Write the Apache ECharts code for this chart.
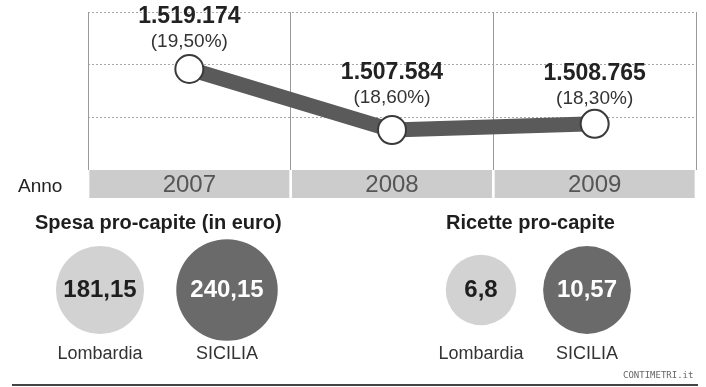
<!DOCTYPE html>
<html>
<head>
<meta charset="utf-8">
<script src="https://cdn.jsdelivr.net/npm/echarts@6/dist/echarts.min.js"></script>
<style>
html,body{margin:0;padding:0;background:#fff;}
#c{width:706px;height:387px;}
</style>
</head>
<body>
<div id="c"></div>
<script>
// ---- data ----
const years = ['2007', '2008', '2009'];
const ricetteTot = [1519174, 1507584, 1508765];
const quota = [19.50, 18.60, 18.30];
const regions = ['Lombardia', 'SICILIA'];
const spesaProCapite = [181.15, 240.15];
const ricetteProCapite = [6.8, 10.57];
const yTicks = [1500000, 1510000, 1520000, 1530000];

// ---- helpers ----
function fmtInt(v) { return String(v).replace(/\B(?=(\d{3})+(?!\d))/g, '.'); }
function fmtPct(v) { return v.toFixed(2).replace('.', ','); }
function fmtDec(v) { return String(v).replace('.', ','); }

const FONT = '"Liberation Sans", Arial, Helvetica, sans-serif';
const circleColors = ['#d2d2d2', '#6a6a6a'];
const circleText = ['#1e1e1e', '#ffffff'];
const labelGap = [0, 5, -2];

const chart = echarts.init(document.getElementById('c'), null, {renderer: 'canvas'});

function circleSeries(vals, k, axisIdx) {
  return {
    type: 'scatter',
    xAxisIndex: axisIdx, yAxisIndex: axisIdx,
    data: vals.map((v, i) => ({
      value: [i, 0, v],
      itemStyle: {color: circleColors[i], opacity: 1},
      label: {color: circleText[i]}
    })),
    symbol: 'circle',
    symbolSize: (val) => k * Math.sqrt(val[2]),
    itemStyle: {opacity: 1},
    label: {
      show: true, position: 'inside',
      formatter: (p) => fmtDec(p.value[2]),
      fontFamily: FONT, fontSize: 24, fontWeight: 'bold'
    },
    silent: true
  };
}

function regionAxis(idx) {
  return {
    gridIndex: idx, type: 'category', data: regions,
    axisLine: {show: false}, axisTick: {show: false}, splitLine: {show: false},
    axisLabel: {interval: 0, hideOverlap: false, margin: 35, fontFamily: FONT, fontSize: 18, color: '#333'}
  };
}

const option = {
  backgroundColor: '#ffffff',
  animation: false,
  textStyle: {fontFamily: FONT},
  title: [
    {text: 'Spesa pro-capite (in euro)', left: 30, top: 206,
     textStyle: {fontFamily: FONT, fontSize: 20, fontWeight: 'bold', color: '#1e1e1e', lineHeight: 24}},
    {text: 'Ricette pro-capite', left: 441, top: 206,
     textStyle: {fontFamily: FONT, fontSize: 20, fontWeight: 'bold', color: '#1e1e1e', lineHeight: 24}},
    {text: 'Anno', left: 13, top: 171,
     textStyle: {fontFamily: FONT, fontSize: 19, fontWeight: 'normal', color: '#222', lineHeight: 22}}
  ],
  grid: [
    {left: 88, right: 10, top: 12, height: 158},
    {left: 36.5, width: 254, top: 270, height: 40},
    {left: 428, width: 212, top: 270, height: 40}
  ],
  xAxis: [
    {
      gridIndex: 0, type: 'category', data: years, boundaryGap: true,
      axisLine: {show: false}, axisTick: {show: false},
      splitLine: {show: true, lineStyle: {color: '#9a9a9a', width: 1}},
      axisLabel: {
        interval: 0, margin: 0, fontFamily: FONT, fontSize: 24, color: '#555',
        backgroundColor: '#cccccc', width: 200, height: 28, lineHeight: 30,
        align: 'center', verticalAlign: 'top'
      }
    },
    regionAxis(1),
    regionAxis(2)
  ],
  yAxis: [
    {
      gridIndex: 0, type: 'value',
      min: yTicks[0], max: yTicks[yTicks.length - 1], interval: yTicks[1] - yTicks[0],
      axisLine: {show: false}, axisTick: {show: false}, axisLabel: {show: false},
      splitLine: {show: true, showMinLine: false,
        lineStyle: {color: '#a8a8a8', width: 1, type: [2, 2]}}
    },
    {gridIndex: 1, type: 'value', min: -1, max: 1, show: false},
    {gridIndex: 2, type: 'value', min: -1, max: 1, show: false}
  ],
  series: [
    {
      type: 'line',
      xAxisIndex: 0, yAxisIndex: 0,
      data: ricetteTot.map((v, i) => ({value: v, label: {distance: labelGap[i]}})),
      symbol: 'circle', symbolSize: 28,
      itemStyle: {color: '#ffffff', borderColor: '#3a3a3a', borderWidth: 2},
      lineStyle: {color: '#5a5a5a', width: 15},
      label: {
        show: true, position: 'top',
        formatter: (p) => '{v|' + fmtInt(ricetteTot[p.dataIndex]) + '}\n{p|(' + fmtPct(quota[p.dataIndex]) + '%)}',
        rich: {
          v: {fontFamily: FONT, fontSize: 23, fontWeight: 'bold', color: '#222', lineHeight: 26, align: 'center'},
          p: {fontFamily: FONT, fontSize: 19, color: '#333', lineHeight: 24, align: 'center'}
        }
      },
      silent: true
    },
    circleSeries(spesaProCapite, 6.55, 1),
    circleSeries(ricetteProCapite, 27, 2)
  ],
  graphic: [
    {type: 'line', shape: {x1: 12, y1: 385, x2: 698, y2: 385},
     style: {stroke: '#444', lineWidth: 2}, silent: true},
    {type: 'text', left: 623, top: 371,
     style: {text: 'CONTIMETRI.it', font: '9px "DejaVu Sans Mono", monospace', fill: '#666'}, silent: true}
  ]
};
chart.setOption(option);
</script>
</body>
</html>
